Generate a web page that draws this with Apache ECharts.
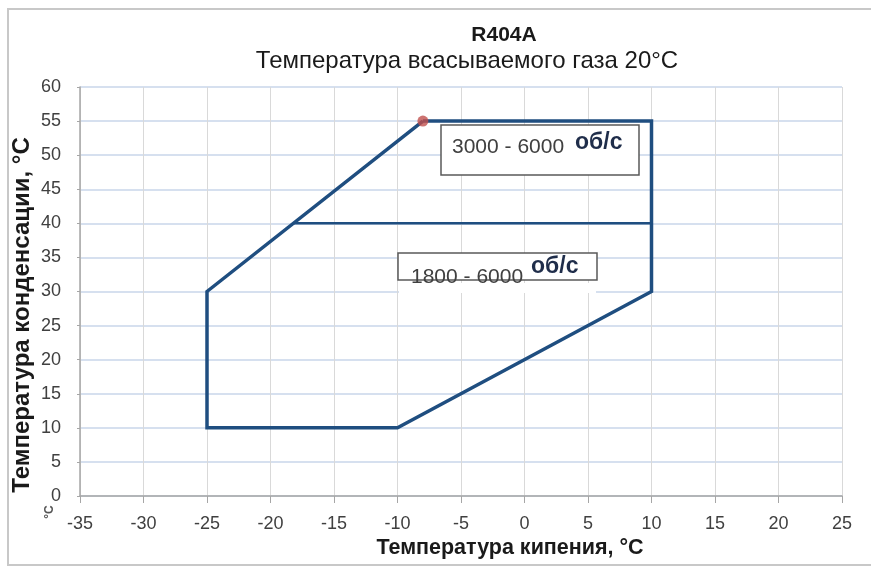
<!DOCTYPE html>
<html><head><meta charset="utf-8">
<script src="https://cdn.jsdelivr.net/npm/echarts@6/dist/echarts.min.js"></script>
<style>html,body{margin:0;padding:0;background:#fff}#c{width:871px;height:569px}</style>
</head><body><div id="c"></div>
<script>
const titleText = 'R404A';
const subtitleText = 'Температура всасываемого газа 20°C';
const xName = 'Температура кипения, °C';
const yName = 'Температура конденсации, °C';
// envelope outline (evaporating, condensing)
const envelopeX = [-8, 10, 10, -10, -25, -25, -8];
const envelopeY = [55, 55, 30, 10, 10, 30, 55];
// divider line between speed ranges
const dividerX = [-18.2, 10];
const dividerY = [40, 40];
// marked point
const pointX = [-8];
const pointY = [55];
const box1Label = ['3000 - 6000', 'об/с'];
const box2Label = ['1800 - 6000', 'об/с'];

const chart = echarts.init(document.getElementById('c'));
const zip = (a, b) => a.map((v, i) => [v, b[i]]);
const font = 'Liberation Sans, Arial, sans-serif';
chart.setOption({
  animation: false,
  backgroundColor: '#fff',
  grid: {left: 80, right: 29, top: 87, bottom: 73},
  xAxis: {
    type: 'value', min: -35, max: 25, interval: 5,
    axisLine: {show: true, onZero: false, lineStyle: {color: '#a6a6a6', width: 1.5}},
    axisTick: {show: true, length: 7, inside: false, lineStyle: {color: '#a6a6a6'}},
    axisLabel: {color: '#404040', fontSize: 18, fontFamily: font, margin: 19},
    splitLine: {show: true, lineStyle: {color: '#d9d9d9', width: 1}}
  },
  yAxis: {
    type: 'value', min: 0, max: 60, interval: 5,
    axisLine: {show: true, onZero: false, lineStyle: {color: '#a6a6a6', width: 1.5}},
    axisTick: {show: true, length: 3, lineStyle: {color: '#a6a6a6'}},
    axisLabel: {color: '#404040', fontSize: 18, fontFamily: font, margin: 19},
    splitLine: {show: true, lineStyle: {color: '#c9d6ea', width: 1.5}}
  },
  series: [
    {type: 'line', data: zip(envelopeX, envelopeY), symbol: 'none', z: 3,
     lineStyle: {color: '#1f4e80', width: 3.5, join: 'miter'}},
    {type: 'line', data: zip(dividerX, dividerY), symbol: 'none', z: 3,
     lineStyle: {color: '#1f4e80', width: 2.5}},
    {type: 'scatter', data: zip(pointX, pointY), symbolSize: 11, z: 5,
     itemStyle: {color: '#c0504d'}}
  ],
  graphic: [
    {type: 'polyline', shape: {points: [[871, 9], [8, 9], [8, 565], [871, 565]]},
     style: {fill: 'none', stroke: '#c8c8c8', lineWidth: 2}, z: -10, silent: true},
    {type: 'text', style: {text: titleText, x: 504, y: 35, fill: '#1a1a1a', font: 'bold 21px ' + font, textAlign: 'center', textVerticalAlign: 'middle'}, z: 10},
    {type: 'text', style: {text: subtitleText, x: 467, y: 61, fill: '#1a1a1a', font: '24px ' + font, textAlign: 'center', textVerticalAlign: 'middle'}, z: 10},
    {type: 'text', style: {text: xName, x: 510, y: 548, fill: '#1a1a1a', font: 'bold 21.5px ' + font, textAlign: 'center', textVerticalAlign: 'middle'}, z: 10},
    {type: 'text', rotation: Math.PI / 2, x: 22, y: 315,
     style: {text: yName, x: 0, y: 0, fill: '#1a1a1a', font: 'bold 24px ' + font, textAlign: 'center', textVerticalAlign: 'middle'}, z: 10},
    {type: 'text', rotation: Math.PI / 2, x: 50, y: 512,
     style: {text: '°C', x: 0, y: 0, fill: '#555', font: 'bold 12px ' + font, textAlign: 'center', textVerticalAlign: 'middle'}, z: 10},
    // box 1
    {type: 'rect', shape: {x: 441, y: 125, width: 198, height: 50},
     style: {fill: '#fff', stroke: '#595959', lineWidth: 1.5}, z: 20},
    {type: 'text', style: {text: box1Label[0], x: 452, y: 147, fill: '#404040', font: '21px ' + font, textVerticalAlign: 'middle'}, z: 21},
    {type: 'text', style: {text: box1Label[1], x: 575, y: 143, fill: '#1f2d4a', font: 'bold 23px ' + font, textVerticalAlign: 'middle'}, z: 21},
    // box 2
    {type: 'rect', shape: {x: 398, y: 253, width: 199, height: 27},
     style: {fill: '#fff', stroke: '#595959', lineWidth: 1.5}, z: 20},
    {type: 'text', style: {text: box2Label[0], x: 411, y: 277, fill: '#404040', font: '21px ' + font, textVerticalAlign: 'middle'}, z: 21},
    {type: 'text', style: {text: box2Label[1], x: 531, y: 267, fill: '#1f2d4a', font: 'bold 23px ' + font, textVerticalAlign: 'middle'}, z: 21},
    {type: 'rect', shape: {x: 399, y: 283, width: 197, height: 10}, style: {fill: '#fff'}, z: 22}
  ]
});
</script></body></html>
